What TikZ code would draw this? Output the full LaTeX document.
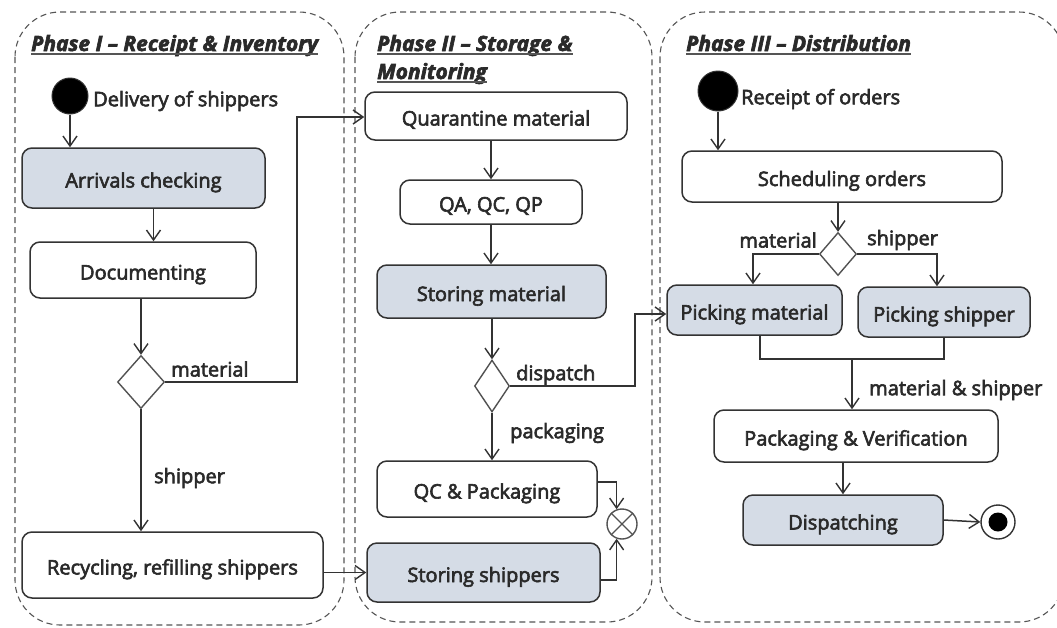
\documentclass[tikz,border=0pt]{standalone}
\usepackage{fontspec}
\setmainfont{Open Sans}[FakeBold=3]
\usetikzlibrary{arrows.meta,shapes.geometric,calc}
\definecolor{ink}{HTML}{333333}
\definecolor{txt}{HTML}{2A2A2A}
\definecolor{actfill}{HTML}{D5DCE6}
\definecolor{lane}{HTML}{555555}
\begin{document}
\begin{tikzpicture}[x=1pt,y=-1pt,
  font=\fontsize{20}{23}\selectfont,
  act/.style={draw=ink, line width=1.5pt, rounded corners=10pt, inner sep=0pt,
    align=center, text=txt, text height=22pt, text depth=3pt},
  hot/.style={act, fill=actfill},
  choice/.style={draw=ink!85, line width=1.4pt, diamond, inner sep=0pt, fill=white},
  flow/.style={draw=ink, line width=1.5pt, -{Straight Barb[length=10pt,width=14pt,line width=1.4pt]}},
  wire/.style={draw=ink, line width=1.5pt},
  lanebox/.style={draw=lane, line width=1.1pt, dash pattern=on 6pt off 4pt, rounded corners=45pt},
  tag/.style={text=txt, inner sep=0pt},
  title/.style={text=txt, inner sep=0pt, anchor=base west, font=\fontsize{21}{24}\selectfont\bfseries\itshape},
  startdot/.style={circle, fill=black, draw=ink, line width=1pt, inner sep=0pt},
]
\useasboundingbox (0,0) rectangle (1057,627);

% swim lanes
\draw[lanebox] (15,12) rectangle (344,625);
\draw[lanebox] (355,12) rectangle (652,622);
\draw[lanebox] (660,12) rectangle (1064,622);

% lane titles
\node[title] (t1) at (31,51) {Phase I – Receipt \& Inventory};
\node[title] (t2a) at (377,51) {Phase II – Storage \&};
\node[title] (t2b) at (377,79) {Monitoring};
\node[title] (t3) at (686,51) {Phase III – Distribution};
\foreach \t in {t1,t2a,t2b,t3}
  \draw[txt!80, line width=1.4pt] ([yshift=-3pt]\t.base west) -- ([yshift=-3pt]\t.base east);

% Phase I
\node[startdot, minimum size=36pt] (s1) at (70,96) {};
\node[tag, anchor=west] (s1l) at (93,101) {Delivery of shippers};
\node[hot, minimum width=243pt, minimum height=60pt] (arrv) at (143.5,178) {Arrivals checking};
\node[act, minimum width=226pt, minimum height=56pt] (doc) at (143,270) {Documenting};
\node[choice, minimum width=47pt, minimum height=53pt] (d1) at (141,382) {};
\node[act, minimum width=301pt, minimum height=66pt] (recy) at (172.5,565) {Recycling, refilling shippers};
\node[tag, anchor=west] (l1) at (171,369) {material};
\node[tag, anchor=west] (l2) at (154,478) {shipper};

% Phase II
\node[act, minimum width=262pt, minimum height=48pt] (quar) at (496,116) {Quarantine material};
\node[act, minimum width=182pt, minimum height=44pt] (qa) at (491,202) {QA, QC, QP};
\node[hot, minimum width=229pt, minimum height=53pt] (stmat) at (491.5,291.5) {Storing material};
\node[choice, minimum width=35pt, minimum height=52pt] (d2) at (492,386) {};
\node[act, minimum width=220pt, minimum height=56pt] (qcp) at (487,489) {QC \& Packaging};
\node[hot, minimum width=233pt, minimum height=59pt] (stsh) at (483.5,572.5) {Storing shippers};
\node[circle, draw=ink!85, line width=1.4pt, minimum size=30pt, inner sep=0pt] (mrg) at (622,524) {};
\draw[ink!85, line width=1.2pt] (mrg.45) -- (mrg.225) (mrg.135) -- (mrg.315);
\node[tag, anchor=west] (l3) at (516,375) {dispatch};
\node[tag, anchor=west] (l4) at (510,433) {packaging};

% Phase III
\node[startdot, minimum size=40pt] (s2) at (718,91) {};
\node[tag, anchor=west] (s2l) at (741,99) {Receipt of orders};
\node[act, minimum width=320pt, minimum height=51pt] (sched) at (842,176.5) {Scheduling orders};
\node[choice, minimum width=37pt, minimum height=43pt] (d3) at (838,254) {};
\node[hot, minimum width=175pt, minimum height=50pt] (pickm) at (754.5,310) {Picking material};
\node[hot, minimum width=172pt, minimum height=50pt] (picks) at (944,312) {Picking shipper};
\node[act, minimum width=284pt, minimum height=52pt] (pv) at (856,436) {Packaging \& Verification};
\node[hot, minimum width=200pt, minimum height=50pt] (disp) at (843,520) {Dispatching};
\node[circle, draw=ink, line width=1.4pt, fill=white, minimum size=34pt, inner sep=0pt] (fin) at (998,522) {};
\node[circle, fill=black, minimum size=19pt, inner sep=0pt] (fincore) at (fin) {};
\node[tag, anchor=east] (l5) at (817,240) {material};
\node[tag, anchor=west] (l6) at (867,240) {shipper};
\node[tag, anchor=west] (l7) at (869,390) {material \& shipper};

% routing points
\coordinate (jog1) at (297,117);
\coordinate (jog2) at (635,314);
\coordinate (join) at (852,359);

% Phase I flows
\draw[flow] (s1) -- (s1 |- arrv.north);
\draw[flow] ([xshift=10pt]arrv.south) -- ([xshift=10pt]arrv.south |- doc.north);
\draw[flow] (d1.north |- doc.south) -- (d1.north);
\draw[flow] (d1.east) -| (jog1) -- (quar.west |- jog1);
\draw[flow] (d1.south) -- (d1.south |- recy.north);
\draw[flow] (recy.east |- stsh.west) -- (stsh.west);

% Phase II flows
\draw[flow] (qa.north |- quar.south) -- (qa.north);
\draw[flow] (qa.south) -- (qa.south |- stmat.north);
\draw[flow] (d2.north |- stmat.south) -- (d2.north);
\draw[flow] (d2.east) -| (jog2) -- (pickm.west |- jog2);
\draw[flow] (d2.south) -- (d2.south |- qcp.north);
\draw[flow] ([yshift=7pt]qcp.east) -| (mrg.110);
\draw[flow] ([yshift=-7.5pt]stsh.east) -| (mrg.250);

% Phase III flows
\draw[flow] (s2) -- (s2 |- sched.north);
\draw[flow] (d3.north |- sched.south) -- (d3.north);
\draw[flow] (d3.west) -| ([xshift=-1.5pt]pickm.north);
\draw[flow] (d3.east) -| ([xshift=-7pt]picks.north);
\draw[wire] ([xshift=5.5pt]pickm.south) |- (join) -| (picks.south);
\draw[flow] (join) -- (join |- pv.north);
\draw[flow] (disp.north |- pv.south) -- (disp.north);
\draw[flow] (disp.east) -- (fin.west);
\end{tikzpicture}
\end{document}
